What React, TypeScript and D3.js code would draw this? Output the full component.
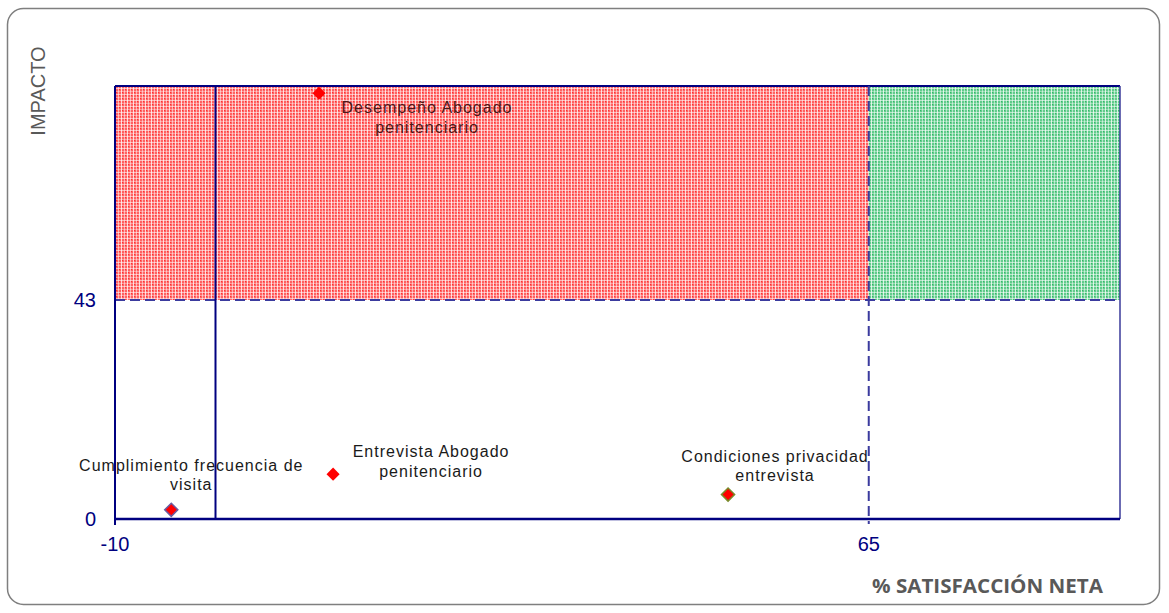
import React from "react";
import * as d3 from "d3";

// ---- data ----
const categories = [
  "Cumplimiento frecuencia de visita",
  "Entrevista Abogado penitenciario",
  "Desempeño Abogado penitenciario",
  "Condiciones privacidad entrevista",
];
const labelLines = [
  ["Cumplimiento frecuencia de", "visita"],
  ["Entrevista Abogado", "penitenciario"],
  ["Desempeño Abogado", "penitenciario"],
  ["Condiciones privacidad", "entrevista"],
];
const satisfaction = [-4.4, 11.7, 10.3, 51.0];
const impact = [1.8, 8.8, 83.6, 4.8];
const xDomain = [-10, 90];
const yDomain = [0, 85];
const xTicks = [-10, 65];
const yTicks = [0, 43];
const thresholdX = 65;
const thresholdY = 43;
const referenceX = 0;
const xTitle = "% SATISFACCIÓN NETA";
const yTitle = "IMPACTO";

// ---- layout / style (not data) ----
const W = 1169;
const H = 613;
const plot = { left: 115, right: 1120, top: 86, bottom: 519 };
const labelOffsets = [
  { dx: 20, dy: -39 },
  { dx: 98, dy: -17 },
  { dx: 108, dy: 20 },
  { dx: 47, dy: -33 },
];
const markerStroke = ["#6a5aa0", "none", "none", "#7a8a2a"];
const labelFill = ["#1a1a1a", "#1a1a1a", "#4a1818", "#1a1a1a"];
const NAVY = "#000080";
const DASH = "#3b3b9e";

export default function App() {
  const x = d3.scaleLinear().domain(xDomain).range([plot.left, plot.right]);
  const y = d3.scaleLinear().domain(yDomain).range([plot.bottom, plot.top]);
  const diamond = d3.symbol().type(d3.symbolSquare).size(86)();

  return (
    <svg
      width={W}
      height={H}
      style={{ position: "absolute", left: 0, top: 0, background: "#fff" }}
      fontFamily="'Liberation Sans', Arial, sans-serif"
    >
      <defs>
        <pattern id="redPat" width="6" height="6" patternUnits="userSpaceOnUse" x={plot.left} y={plot.top}>
          <rect width="6" height="6" fill="#ff6262" />
          <rect x="0" y="0" width="1" height="6" fill="#ffffff" opacity="0.75" />
          <rect x="3" y="0" width="1" height="6" fill="#ffffff" opacity="0.5" />
          <rect x="0" y="2" width="6" height="1" fill="#ffffff" opacity="0.55" />
          <rect x="0" y="5" width="6" height="1" fill="#ffffff" opacity="0.35" />
          <rect x="4" y="3" width="1" height="1" fill="#ff3030" />
          <rect x="1" y="0" width="1" height="1" fill="#ff3030" />
        </pattern>
        <pattern id="greenPat" width="6" height="6" patternUnits="userSpaceOnUse" x={plot.left} y={plot.top}>
          <rect width="6" height="6" fill="#62cc8c" />
          <rect x="0" y="0" width="1" height="6" fill="#ffffff" opacity="0.75" />
          <rect x="3" y="0" width="1" height="6" fill="#ffffff" opacity="0.5" />
          <rect x="0" y="2" width="6" height="1" fill="#ffffff" opacity="0.55" />
          <rect x="0" y="5" width="6" height="1" fill="#ffffff" opacity="0.35" />
          <rect x="4" y="3" width="1" height="1" fill="#33b866" />
          <rect x="1" y="0" width="1" height="1" fill="#33b866" />
        </pattern>
      </defs>

      {/* outer rounded frame */}
      <rect x={7.5} y={8.5} width={1152} height={596} rx={16} ry={16} fill="#fff" stroke="#7f7f7f" strokeWidth={1.5} />

      {/* quadrant fills */}
      <rect
        x={x(xDomain[0])}
        y={y(yDomain[1])}
        width={x(thresholdX) - x(xDomain[0])}
        height={y(thresholdY) - y(yDomain[1])}
        fill="url(#redPat)"
      />
      <rect
        x={x(thresholdX)}
        y={y(yDomain[1])}
        width={x(xDomain[1]) - x(thresholdX)}
        height={y(thresholdY) - y(yDomain[1])}
        fill="url(#greenPat)"
      />

      {/* top and right border */}
      <line x1={x(xDomain[0])} x2={x(xDomain[1])} y1={y(yDomain[1])} y2={y(yDomain[1])} stroke={NAVY} strokeWidth={2} />
      <line x1={x(xDomain[1])} x2={x(xDomain[1])} y1={y(yDomain[1])} y2={y(yDomain[0])} stroke="#3a3a9a" strokeWidth={1.5} />

      {/* threshold dashed lines */}
      <line x1={x(xDomain[0])} x2={x(xDomain[1])} y1={y(thresholdY)} y2={y(thresholdY)} stroke={DASH} strokeWidth={2} strokeDasharray="10,5" />
      <line x1={x(thresholdX)} x2={x(thresholdX)} y1={y(yDomain[1])} y2={y(yDomain[0]) + 5} stroke={DASH} strokeWidth={2} strokeDasharray="10,5" />

      {/* reference vertical line at 0 */}
      <line x1={x(referenceX)} x2={x(referenceX)} y1={y(yDomain[1])} y2={y(yDomain[0])} stroke={NAVY} strokeWidth={2} />

      {/* axes */}
      <line x1={x(xDomain[0])} x2={x(xDomain[0])} y1={y(yDomain[1])} y2={y(yDomain[0]) + 6} stroke={NAVY} strokeWidth={2} />
      <line x1={x(xDomain[0]) - 1} x2={x(xDomain[1])} y1={y(yDomain[0])} y2={y(yDomain[0])} stroke={NAVY} strokeWidth={2.5} />

      {/* tick labels */}
      {xTicks.map((t) => (
        <text key={"xt" + t} x={x(t)} y={551} textAnchor="middle" fontSize={20} fill={NAVY}>
          {t}
        </text>
      ))}
      {yTicks.map((t) => (
        <text key={"yt" + t} x={96} y={y(t) + 7} textAnchor="end" fontSize={20} fill={NAVY}>
          {t}
        </text>
      ))}

      {/* axis titles */}
      <text
        transform={`translate(45, 91) rotate(-90)`}
        textAnchor="middle"
        fontSize={20}
        fill="#595959"
      >
        {yTitle}
      </text>
      <text
        x={872}
        y={593}
        fontSize={20}
        fontWeight="bold"
        fill="#595959"
        fontFamily="'Open Sans', sans-serif"
        textLength={231}
        lengthAdjust="spacingAndGlyphs"
      >
        {xTitle}
      </text>

      {/* points */}
      {categories.map((c, i) => (
        <path
          key={"p" + c}
          d={diamond}
          transform={`translate(${x(satisfaction[i])}, ${y(impact[i])}) rotate(45)`}
          fill="#ff0000"
          stroke={markerStroke[i]}
          strokeWidth={1.5}
        />
      ))}

      {/* labels */}
      {categories.map((c, i) => (
        <text
          key={"l" + c}
          x={x(satisfaction[i]) + labelOffsets[i].dx}
          y={y(impact[i]) + labelOffsets[i].dy}
          textAnchor="middle"
          fontSize={16}
          letterSpacing={1.0}
          fill={labelFill[i]}
        >
          {labelLines[i].map((ln, j) => (
            <tspan key={j} x={x(satisfaction[i]) + labelOffsets[i].dx} dy={j === 0 ? 0 : 19.5}>
              {ln}
            </tspan>
          ))}
        </text>
      ))}
    </svg>
  );
}
